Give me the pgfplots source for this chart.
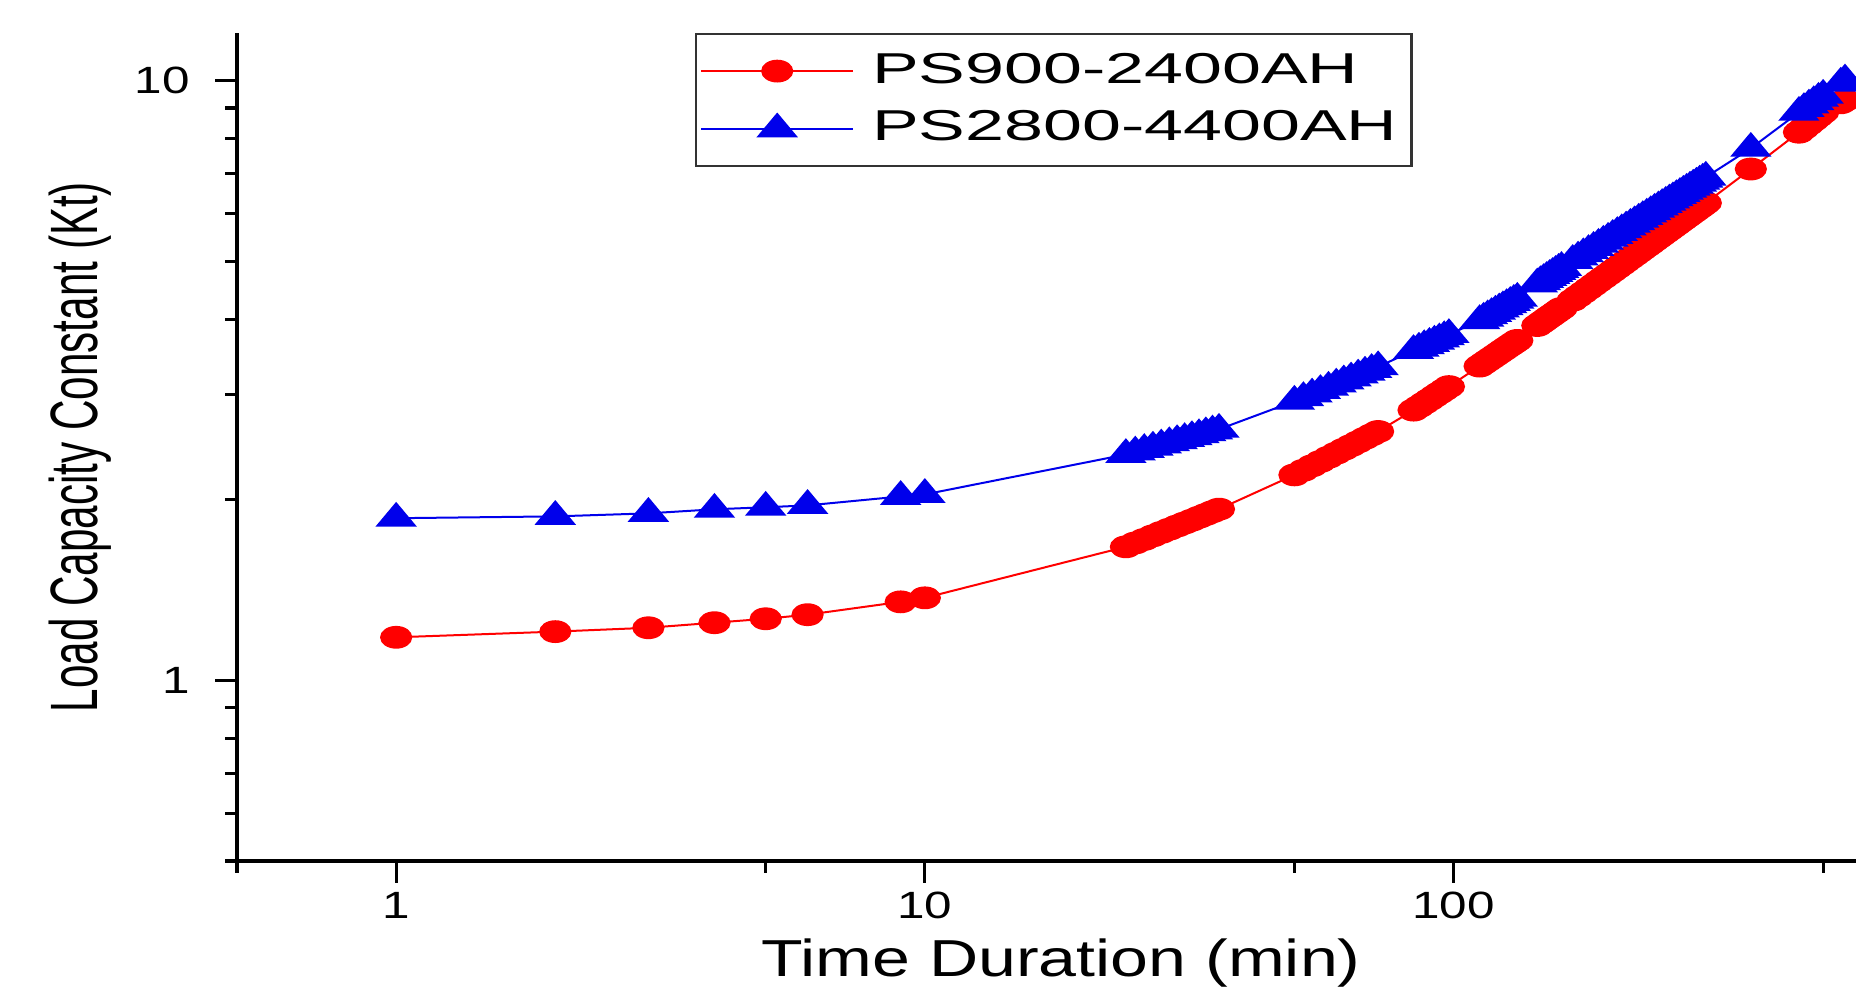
\documentclass[border=0pt]{standalone}
\usepackage{fontspec}
\setmainfont{Liberation Sans}
\usepackage{graphicx}
\usepackage{pgfplots}
\pgfplotsset{compat=1.18}
\definecolor{psred}{RGB}{255,0,0}
\definecolor{psblue}{RGB}{0,0,235}
\newcommand{\ticktxt}[1]{\scalebox{1.3}[1]{#1}}
\newcommand{\legtxt}[1]{\hspace{2pt}\scalebox{1.62}[1]{#1}}

\begin{document}
\begin{tikzpicture}
  \begin{axis}[
    scale only axis, width=404.75pt, height=207pt,
    xmode=log, ymode=log,
    xmin=0.5, xmax=577, ymin=0.5, ymax=12,
    axis x line*=bottom, axis y line*=left,
    axis line style={line width=0.9pt},
    tick style={line width=0.8pt, black},
    tick align=outside,
    major tick length=5.5pt, minor tick length=3pt,
    xtick={1,10,100}, xticklabels={\ticktxt{1},\ticktxt{10},\ticktxt{100}},
    minor xtick={0.5,5,50,500},
    ytick={1,10}, yticklabels={\ticktxt{1},\ticktxt{10}},
    minor ytick={0.5,0.6,0.7,0.8,0.9,2,3,4,5,6,7,8,9},
    tick label style={font=\fontsize{9.5}{11}\selectfont},
    xticklabel style={yshift=1.2pt},
    yticklabel style={xshift=-2.75pt},
    xlabel={\scalebox{1.31}[1]{Time Duration (min)}},
    ylabel={\scalebox{0.63}[1]{Load Capacity Constant (Kt)}},
    every axis x label/.style={at={(axis description cs:0.509,-0.139)},
      anchor=base, inner sep=0pt, font=\fontsize{13}{15}\selectfont},
    every axis y label/.style={at={(axis description cs:-0.0772,0.5)},
      rotate=90, anchor=south, inner sep=0pt, font=\fontsize{16.75}{20}\selectfont},
    legend style={at={(axis description cs:0.2829,1.0)}, anchor=north west,
      draw=black!80, line width=0.6pt, inner xsep=1pt, inner ysep=2pt,
      font=\fontsize{10.8}{13}\selectfont,
      nodes={inner xsep=2.5pt, inner ysep=2.7pt}},
    legend cell align=left,
    legend image code/.code={\draw[mark repeat=2, mark phase=2, #1]
      plot coordinates {(0pt,0pt) (19pt,0pt) (38pt,0pt)};},
  ]
    \addplot[psred, line width=0.5pt, mark=*, mark size=2.6pt,
      mark options={fill=psred, draw=psred, xscale=1.45}] coordinates {
      (1,1.180)(2,1.206)(3,1.224)(4,1.248)(5,1.267)(6,1.287)(9,1.352)(10,1.373)
      (24,1.670)(25,1.695)(26,1.718)(27,1.742)(28,1.765)(29,1.787)(30,1.809)
      (31,1.830)(32,1.850)(33,1.871)(34,1.891)(35,1.911)(36,1.930)
      (50,2.201)(52,2.240)(54,2.279)(56,2.317)(58,2.355)(60,2.392)(62,2.428)
      (64,2.463)(66,2.498)(68,2.533)(70,2.567)(72,2.600)
      (84,2.822)(86,2.860)(88,2.899)(90,2.937)(92,2.976)(94,3.014)(96,3.051)(98,3.089)
      (112,3.342)(114,3.378)(116,3.413)(118,3.448)(120,3.483)(122,3.518)
      (124,3.553)(126,3.587)(128,3.621)(130,3.654)(132,3.688)
      (144,3.905)(146,3.940)(148,3.973)(150,4.007)(152,4.040)(154,4.072)
      (156,4.105)(158,4.138)(160,4.170)
      (168,4.303)(172,4.369)(176,4.434)(180,4.499)(184,4.563)(188,4.627)
      (192,4.690)(196,4.752)(200,4.814)(204,4.876)(208,4.937)(212,4.998)
      (216,5.059)(220,5.119)(224,5.179)(228,5.238)(232,5.297)(236,5.355)
      (240,5.414)(244,5.472)(248,5.529)(252,5.587)(256,5.643)(260,5.700)
      (264,5.757)(268,5.813)(272,5.868)(276,5.924)(280,5.979)(284,6.034)
      (288,6.088)(292,6.142)(296,6.196)(300,6.250)
      (365,7.120)
      (450,8.20)(460,8.33)(470,8.46)(480,8.59)(490,8.72)(500,8.85)
      (540,9.18)(550,9.27)
    };
    \addlegendentry{\legtxt{PS900-2400AH}}
    \addplot[psblue, line width=0.5pt, mark=triangle*, mark size=3.7pt,
      mark options={fill=psblue, draw=psblue, xscale=1.45}] coordinates {
      (1,1.864)(2,1.877)(3,1.899)(4,1.929)(5,1.944)(6,1.958)(9,2.026)(10,2.042)
      (24,2.380)(25,2.403)(26,2.426)(27,2.448)(28,2.469)(29,2.490)(30,2.510)
      (31,2.530)(32,2.549)(33,2.568)(34,2.587)(35,2.605)(36,2.622)
      (50,2.920)(52,2.961)(54,3.002)(56,3.042)(58,3.081)(60,3.119)(62,3.157)
      (64,3.193)(66,3.229)(68,3.265)(70,3.299)(72,3.333)
      (84,3.547)(86,3.580)(88,3.614)(90,3.646)(92,3.678)(94,3.710)(96,3.741)(98,3.772)
      (112,3.980)(114,4.017)(116,4.053)(118,4.089)(120,4.125)(122,4.161)
      (124,4.196)(126,4.231)(128,4.266)(130,4.301)(132,4.335)
      (144,4.581)(146,4.620)(148,4.658)(150,4.696)(152,4.733)(154,4.770)
      (156,4.807)(158,4.844)(160,4.880)
      (168,5.013)(172,5.078)(176,5.143)(180,5.207)(184,5.271)(188,5.333)
      (192,5.396)(196,5.457)(200,5.519)(204,5.579)(208,5.639)(212,5.699)
      (216,5.758)(220,5.816)(224,5.874)(228,5.932)(232,5.989)(236,6.045)
      (240,6.102)(244,6.157)(248,6.212)(252,6.268)(256,6.322)(260,6.376)
      (264,6.430)(268,6.483)(272,6.536)(276,6.589)(280,6.641)(284,6.693)
      (288,6.745)(292,6.797)(296,6.848)(300,6.900)
      (365,7.710)
      (450,8.85)(460,8.98)(470,9.10)(480,9.22)(490,9.34)(500,9.45)
      (540,9.90)(550,10.02)
    };
    \addlegendentry{\legtxt{PS2800-4400AH}}
  \end{axis}
  \pgfresetboundingbox
  \path[use as bounding box] (-59.25pt,-32pt) rectangle (404.75pt,215.25pt);
\end{tikzpicture}
\end{document}
